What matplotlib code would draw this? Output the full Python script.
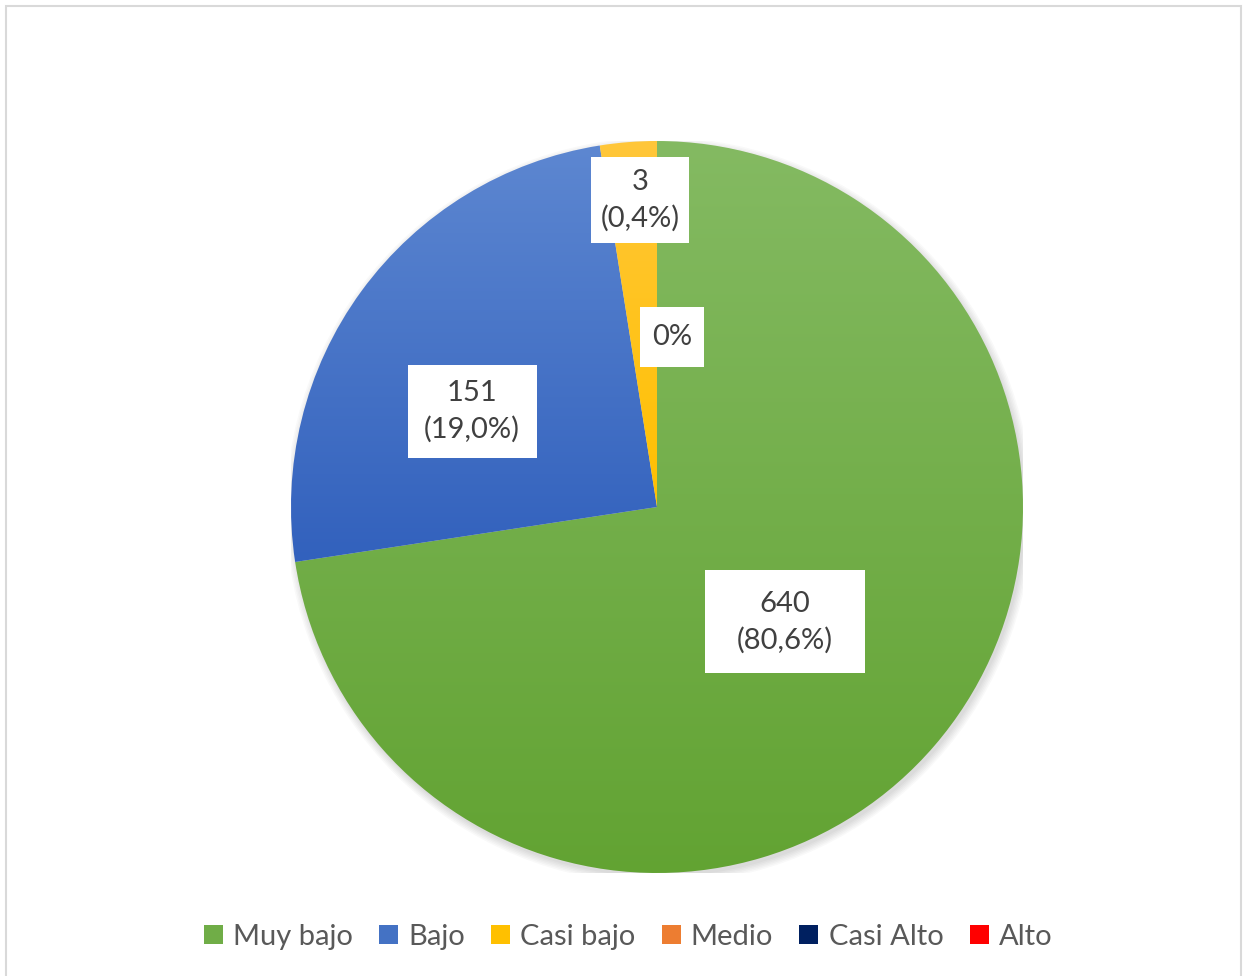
import matplotlib
matplotlib.use("Agg")
import matplotlib.pyplot as plt
import numpy as np
from matplotlib.patches import Patch, Rectangle, Circle
from matplotlib.colors import to_rgb

plt.rcParams["font.family"] = ["Lato", "DejaVu Sans"]

# ----------------------------
# Data
# ----------------------------
categories = ["Muy bajo", "Bajo", "Casi bajo", "Medio", "Casi Alto", "Alto"]
counts = [640, 151, 3, 0, 0, 0]
pct_labels = ["80,6%", "19,0%", "0,4%", "0%", "0%", "0%"]
# slice sizes as drawn in the picture (share, %)
drawn_share = [72.6, 24.9, 2.5, 0.0, 0.0, 0.0]

legend_colors = ["#70ad47", "#4472c4", "#ffc000", "#ed7d31", "#002060", "#ff0000"]
grad_top = ["#84ba62", "#5d87d1", "#ffc73a", "#f0904f", "#1a3a7a", "#ff3030"]
grad_bottom = ["#62a332", "#3261bd", "#ffc000", "#ed7d31", "#002060", "#ff0000"]

W, H = 1246, 976
CX, CY, R = 657, 507, 366  # pie centre / radius in pixels

fig = plt.figure(figsize=(W / 100, H / 100), dpi=100)
fig.patch.set_facecolor("white")

# chart border
fig.add_artist(Rectangle((6 / W, -0.05), (1241 - 6) / W, 1 - 6 / H + 0.05,
                         transform=fig.transFigure, fill=False,
                         ec="#d9d9d9", lw=1.5))

ax = fig.add_axes([(CX - R) / W, (H - CY - R) / H, 2 * R / W, 2 * R / H])
ax.axis("off")

# soft shadow
for k in range(6):
    ax.add_patch(Circle((0.006, -0.01), 1.0 + 0.004 * k, fc="black",
                        alpha=0.025, ec="none", zorder=0))

wedges, _ = ax.pie(drawn_share, startangle=90, counterclock=False,
                   colors=legend_colors, radius=1.0,
                   wedgeprops=dict(lw=0, ec="none"))
ax.set_aspect("auto")

# vertical gradient inside each slice
for w, c0, c1, share in zip(wedges, grad_top, grad_bottom, drawn_share):
    if share <= 0:
        continue
    verts = w.get_patch_transform().transform(w.get_path().vertices)
    y0, y1 = verts[:, 1].min(), verts[:, 1].max()
    x0, x1 = verts[:, 0].min(), verts[:, 0].max()
    t = np.linspace(0, 1, 256)[:, None]
    a, b = np.array(to_rgb(c0)), np.array(to_rgb(c1))
    img = (a * (1 - t) + b * t)[:, None, :]
    im = ax.imshow(img, extent=[x0, x1, y0, y1], origin="upper",
                   aspect="auto", zorder=2, interpolation="bilinear")
    im.set_clip_path(w)
    w.set_visible(False)

ax.set_xlim(-1, 1)
ax.set_ylim(-1, 1)

# ----------------------------
# Data labels (white boxes)
# ----------------------------
label_pos = [(0.35, -0.314), (-0.505, 0.262), (-0.046, 0.839), (0.041, 0.464)]
box_size = [(160, 103), (129, 93), (98, 86), (64, 60)]
label_texts = [f"{counts[i]}\n({pct_labels[i]})" for i in range(3)] + [pct_labels[3]]

for (lx, ly), (bw, bh), txt in zip(label_pos, box_size, label_texts):
    ax.add_patch(Rectangle((lx - bw / R / 2, ly - bh / R / 2), bw / R, bh / R,
                           fc="white", ec="none", zorder=5, clip_on=False))
    ax.text(lx, ly, txt, ha="center", va="center", fontsize=21,
            color="#404040", linespacing=1.45, zorder=6, clip_on=False)

# ----------------------------
# Legend
# ----------------------------
handles = [Patch(fc=c, ec="none", label=l) for c, l in zip(legend_colors, categories)]
fig.legend(handles=handles, loc="center", bbox_to_anchor=(0.504, 1 - 937 / H),
           ncol=6, frameon=False, fontsize=21, handlelength=0.65,
           handleheight=0.65, handletextpad=0.35, columnspacing=0.9,
           labelcolor="#595959")

fig.savefig("out.png", dpi=100)
